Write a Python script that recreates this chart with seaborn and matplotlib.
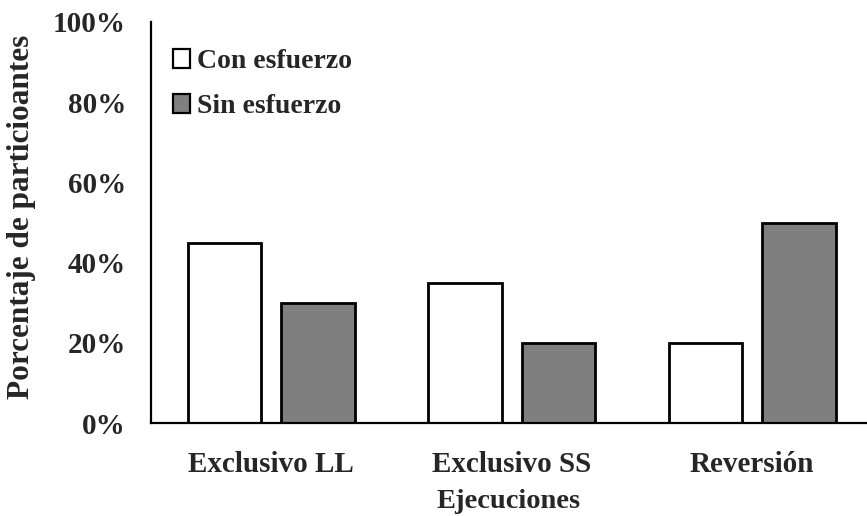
import matplotlib
matplotlib.use("Agg")
import matplotlib.pyplot as plt
import seaborn as sns
import pandas as pd
from matplotlib.patches import Patch
from matplotlib.ticker import PercentFormatter

categories = ["Exclusivo LL", "Exclusivo SS", "Reversión"]
series_names = ["Con esfuerzo", "Sin esfuerzo"]
con_esfuerzo = [45, 35, 20]
sin_esfuerzo = [30, 20, 50]
y_ticks = [0, 20, 40, 60, 80, 100]

df = pd.DataFrame({
    "Ejecución": categories * 2,
    "Condición": [series_names[0]] * 3 + [series_names[1]] * 3,
    "Porcentaje": con_esfuerzo + sin_esfuerzo,
})

sns.set_theme(style="white")
plt.rcParams["font.family"] = ["Liberation Serif", "DejaVu Serif"]
plt.rcParams["font.weight"] = "bold"

colors = {"Con esfuerzo": "#ffffff", "Sin esfuerzo": "#7f7f7f"}

fig = plt.figure(figsize=(8.67, 5.16), dpi=100)
ax = fig.add_axes([151 / 867, 1 - 423 / 516, 716 / 867, 401 / 516])

sns.barplot(data=df, x="Ejecución", y="Porcentaje", hue="Condición",
            order=categories, hue_order=series_names, palette=colors,
            width=0.775, gap=0.21, edgecolor="black", linewidth=2.0,
            legend=False, ax=ax)

ax.set_xlim(-0.5, 2.5 - 5.5 / 241)
ax.set_ylim(0, 100)
ax.set_yticks(y_ticks)
ax.yaxis.set_major_formatter(PercentFormatter(decimals=0))
ax.tick_params(axis="both", length=0, labelsize=21)
ax.tick_params(axis="y", pad=18)
ax.tick_params(axis="x", pad=20)
for lbl in ax.get_xticklabels() + ax.get_yticklabels():
    lbl.set_fontweight("bold")

for side in ["top", "right"]:
    ax.spines[side].set_visible(False)
for side in ["left", "bottom"]:
    ax.spines[side].set_color("black")
    ax.spines[side].set_linewidth(1.6)

ax.set_xlabel("Ejecuciones", fontsize=20.5, fontweight="bold", labelpad=8)
ax.set_ylabel("Porcentaje de particioantes", fontsize=22.5, fontweight="bold")
ax.yaxis.set_label_coords(-0.1606, 0.514)

handles = [Patch(facecolor=colors[n], edgecolor="black", linewidth=1.6, label=n)
           for n in series_names]
ax.legend(handles=handles, loc="upper left", bbox_to_anchor=(0.015, 0.96),
          frameon=False, prop={"size": 20, "weight": "bold"},
          handlelength=0.62, handleheight=0.65, handletextpad=0.25,
          labelspacing=0.72, borderaxespad=0)

fig.savefig("out.png", dpi=100, facecolor="white")
